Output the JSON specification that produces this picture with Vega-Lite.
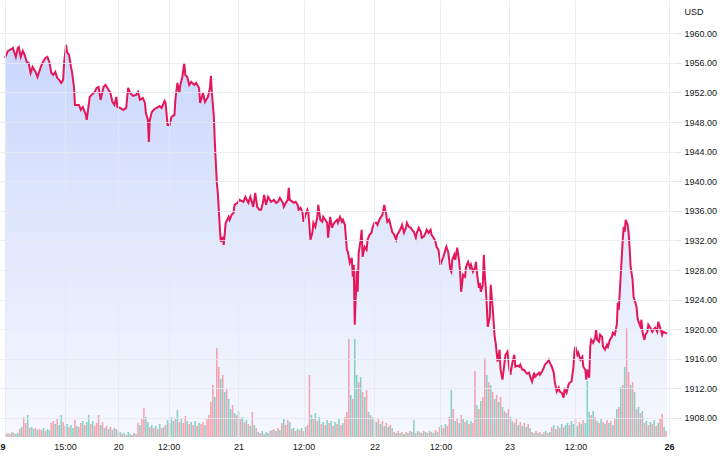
{
"$schema": "https://vega.github.io/schema/vega-lite/v6.json",
"width": 676, "height": 437,
"autosize": {"type": "none"},
"padding": {"left": 0, "top": 0, "right": 44, "bottom": 19},
"background": "#ffffff",
"config": {"view": {"stroke": null}, "font": "Liberation Sans"},
"datasets": {
"price": [
{"t":0,"p":1956.67},{"t":3,"p":1957.61},{"t":7,"p":1957.88},{"t":8,"p":1958.02},{"t":11,"p":1956.80},{"t":13,"p":1958.02},{"t":14,"p":1958.15},{"t":16,"p":1956.80},{"t":18,"p":1957.61},{"t":20,"p":1957.07},{"t":22,"p":1956.13},{"t":24,"p":1955.99},{"t":26,"p":1954.64},{"t":28,"p":1955.45},{"t":31,"p":1954.78},{"t":33,"p":1954.10},{"t":36,"p":1955.32},{"t":38,"p":1955.99},{"t":41,"p":1956.67},{"t":43,"p":1956.80},{"t":45,"p":1956.13},{"t":47,"p":1954.64},{"t":49,"p":1954.37},{"t":51,"p":1954.78},{"t":53,"p":1953.97},{"t":55,"p":1953.70},{"t":57,"p":1953.29},{"t":59,"p":1953.70},{"t":60,"p":1955.99},{"t":62,"p":1958.42},{"t":63,"p":1957.48},{"t":65,"p":1957.07},{"t":67,"p":1955.45},{"t":68,"p":1954.78},{"t":70,"p":1952.75},{"t":71,"p":1950.32},{"t":75,"p":1950.32},{"t":77,"p":1949.64},{"t":79,"p":1950.05},{"t":82,"p":1948.97},{"t":83,"p":1948.29},{"t":86,"p":1951.40},{"t":88,"p":1951.67},{"t":91,"p":1952.07},{"t":93,"p":1952.61},{"t":95,"p":1952.75},{"t":97,"p":1950.99},{"t":100,"p":1952.75},{"t":102,"p":1953.02},{"t":104,"p":1952.61},{"t":107,"p":1951.94},{"t":109,"p":1950.72},{"t":111,"p":1950.32},{"t":113,"p":1951.40},{"t":114,"p":1950.05},{"t":117,"p":1949.91},{"t":120,"p":1949.64},{"t":123,"p":1949.91},{"t":125,"p":1952.61},{"t":127,"p":1951.94},{"t":130,"p":1951.53},{"t":133,"p":1951.67},{"t":135,"p":1952.07},{"t":137,"p":1950.99},{"t":140,"p":1951.26},{"t":142,"p":1950.59},{"t":143,"p":1949.24},{"t":145,"p":1948.29},{"t":146,"p":1945.32},{"t":147,"p":1948.29},{"t":149,"p":1949.37},{"t":152,"p":1949.78},{"t":154,"p":1949.91},{"t":157,"p":1950.18},{"t":159,"p":1949.91},{"t":162,"p":1950.86},{"t":163,"p":1950.59},{"t":165,"p":1947.62},{"t":167,"p":1947.62},{"t":169,"p":1948.70},{"t":172,"p":1948.97},{"t":173,"p":1951.13},{"t":175,"p":1953.29},{"t":177,"p":1951.94},{"t":178,"p":1953.02},{"t":180,"p":1954.10},{"t":182,"p":1955.99},{"t":183,"p":1954.37},{"t":185,"p":1954.10},{"t":187,"p":1953.02},{"t":189,"p":1953.43},{"t":192,"p":1953.02},{"t":194,"p":1953.29},{"t":197,"p":1952.61},{"t":198,"p":1950.59},{"t":201,"p":1951.94},{"t":203,"p":1950.72},{"t":206,"p":1951.40},{"t":208,"p":1952.61},{"t":209,"p":1954.24},{"t":210,"p":1951.94},{"t":212,"p":1948.70},{"t":213,"p":1945.19},{"t":215,"p":1939.78},{"t":216,"p":1938.43},{"t":218,"p":1933.84},{"t":219,"p":1931.82},{"t":221,"p":1932.49},{"t":222,"p":1931.41},{"t":224,"p":1934.38},{"t":227,"p":1935.19},{"t":228,"p":1934.79},{"t":230,"p":1935.46},{"t":232,"p":1935.73},{"t":233,"p":1936.81},{"t":236,"p":1937.08},{"t":238,"p":1937.49},{"t":242,"p":1937.22},{"t":244,"p":1937.89},{"t":247,"p":1937.08},{"t":249,"p":1937.89},{"t":252,"p":1936.54},{"t":254,"p":1938.43},{"t":256,"p":1936.54},{"t":258,"p":1936.14},{"t":260,"p":1936.14},{"t":262,"p":1937.22},{"t":263,"p":1938.16},{"t":265,"p":1936.81},{"t":267,"p":1937.89},{"t":270,"p":1937.22},{"t":273,"p":1937.49},{"t":275,"p":1937.08},{"t":277,"p":1937.22},{"t":279,"p":1937.76},{"t":282,"p":1937.08},{"t":283,"p":1936.54},{"t":285,"p":1937.08},{"t":287,"p":1937.49},{"t":288,"p":1939.11},{"t":289,"p":1937.49},{"t":292,"p":1937.22},{"t":293,"p":1937.08},{"t":295,"p":1937.22},{"t":297,"p":1936.81},{"t":298,"p":1936.14},{"t":300,"p":1936.41},{"t":302,"p":1935.73},{"t":303,"p":1934.52},{"t":305,"p":1935.46},{"t":307,"p":1936.14},{"t":308,"p":1935.73},{"t":310,"p":1932.09},{"t":312,"p":1933.03},{"t":313,"p":1934.38},{"t":315,"p":1933.84},{"t":317,"p":1935.19},{"t":318,"p":1936.81},{"t":320,"p":1934.79},{"t":322,"p":1934.52},{"t":323,"p":1935.19},{"t":325,"p":1934.79},{"t":327,"p":1934.38},{"t":328,"p":1932.36},{"t":330,"p":1935.19},{"t":332,"p":1933.71},{"t":333,"p":1934.11},{"t":335,"p":1934.52},{"t":337,"p":1934.79},{"t":338,"p":1934.38},{"t":340,"p":1935.19},{"t":342,"p":1934.52},{"t":343,"p":1934.79},{"t":345,"p":1934.11},{"t":347,"p":1930.73},{"t":348,"p":1930.46},{"t":350,"p":1928.98},{"t":352,"p":1929.65},{"t":353,"p":1927.09},{"t":354,"p":1928.71},{"t":355,"p":1920.61},{"t":357,"p":1928.03},{"t":358,"p":1925.06},{"t":359,"p":1930.33},{"t":361,"p":1932.09},{"t":362,"p":1933.44},{"t":363,"p":1929.79},{"t":365,"p":1931.14},{"t":367,"p":1930.73},{"t":368,"p":1932.09},{"t":370,"p":1932.76},{"t":372,"p":1933.03},{"t":373,"p":1933.71},{"t":375,"p":1934.38},{"t":377,"p":1934.38},{"t":378,"p":1934.11},{"t":380,"p":1934.79},{"t":383,"p":1935.46},{"t":385,"p":1936.81},{"t":387,"p":1935.46},{"t":388,"p":1934.52},{"t":390,"p":1934.79},{"t":392,"p":1933.71},{"t":393,"p":1933.17},{"t":395,"p":1932.76},{"t":397,"p":1932.09},{"t":398,"p":1932.76},{"t":400,"p":1933.17},{"t":402,"p":1933.71},{"t":403,"p":1934.11},{"t":405,"p":1933.03},{"t":407,"p":1933.71},{"t":408,"p":1934.38},{"t":410,"p":1933.84},{"t":412,"p":1933.71},{"t":413,"p":1933.44},{"t":415,"p":1933.17},{"t":417,"p":1932.36},{"t":418,"p":1933.03},{"t":420,"p":1933.71},{"t":422,"p":1933.17},{"t":423,"p":1932.36},{"t":425,"p":1932.49},{"t":427,"p":1933.03},{"t":428,"p":1933.44},{"t":430,"p":1933.03},{"t":432,"p":1933.44},{"t":433,"p":1932.76},{"t":435,"p":1932.36},{"t":437,"p":1931.82},{"t":438,"p":1931.14},{"t":440,"p":1930.73},{"t":442,"p":1928.71},{"t":443,"p":1929.11},{"t":445,"p":1929.79},{"t":447,"p":1930.73},{"t":448,"p":1931.14},{"t":450,"p":1930.33},{"t":452,"p":1928.03},{"t":453,"p":1927.76},{"t":454,"p":1929.38},{"t":456,"p":1930.06},{"t":457,"p":1929.38},{"t":459,"p":1931.01},{"t":461,"p":1929.11},{"t":462,"p":1927.63},{"t":463,"p":1925.06},{"t":465,"p":1927.36},{"t":467,"p":1927.09},{"t":468,"p":1928.44},{"t":470,"p":1929.11},{"t":472,"p":1928.30},{"t":473,"p":1928.71},{"t":475,"p":1927.76},{"t":477,"p":1928.30},{"t":478,"p":1929.11},{"t":479,"p":1927.63},{"t":481,"p":1925.60},{"t":482,"p":1926.28},{"t":483,"p":1925.06},{"t":485,"p":1926.01},{"t":486,"p":1930.06},{"t":487,"p":1927.36},{"t":488,"p":1925.60},{"t":489,"p":1923.31},{"t":490,"p":1920.34},{"t":492,"p":1921.55},{"t":493,"p":1926.01},{"t":495,"p":1922.90},{"t":497,"p":1918.98},{"t":498,"p":1918.17},{"t":500,"p":1915.61},{"t":502,"p":1917.23},{"t":503,"p":1914.53},{"t":505,"p":1913.18},{"t":507,"p":1915.47},{"t":508,"p":1916.55},{"t":510,"p":1916.96},{"t":512,"p":1914.53},{"t":513,"p":1913.85},{"t":515,"p":1915.47},{"t":517,"p":1916.55},{"t":518,"p":1914.93},{"t":520,"p":1915.07},{"t":522,"p":1914.93},{"t":523,"p":1915.20},{"t":525,"p":1914.53},{"t":527,"p":1914.53},{"t":528,"p":1914.26},{"t":530,"p":1913.99},{"t":532,"p":1914.12},{"t":533,"p":1913.58},{"t":535,"p":1912.91},{"t":537,"p":1914.12},{"t":538,"p":1913.58},{"t":540,"p":1913.85},{"t":542,"p":1914.12},{"t":543,"p":1913.85},{"t":545,"p":1914.26},{"t":547,"p":1914.80},{"t":548,"p":1915.20},{"t":550,"p":1915.47},{"t":552,"p":1915.88},{"t":553,"p":1915.47},{"t":555,"p":1914.93},{"t":557,"p":1914.12},{"t":558,"p":1912.91},{"t":560,"p":1911.56},{"t":562,"p":1912.10},{"t":563,"p":1911.56},{"t":565,"p":1911.42},{"t":567,"p":1910.75},{"t":568,"p":1911.83},{"t":570,"p":1911.42},{"t":572,"p":1912.50},{"t":573,"p":1912.77},{"t":575,"p":1912.91},{"t":577,"p":1914.93},{"t":578,"p":1916.96},{"t":579,"p":1917.63},{"t":581,"p":1916.55},{"t":582,"p":1916.82},{"t":584,"p":1915.88},{"t":586,"p":1916.28},{"t":587,"p":1914.93},{"t":589,"p":1914.53},{"t":590,"p":1913.18},{"t":591,"p":1914.53},{"t":593,"p":1913.45},{"t":594,"p":1917.63},{"t":595,"p":1918.58},{"t":597,"p":1918.17},{"t":599,"p":1918.85},{"t":600,"p":1919.93},{"t":601,"p":1918.58},{"t":603,"p":1918.31},{"t":604,"p":1919.25},{"t":606,"p":1918.98},{"t":607,"p":1917.63},{"t":609,"p":1917.23},{"t":611,"p":1917.90},{"t":612,"p":1917.63},{"t":614,"p":1918.58},{"t":616,"p":1918.98},{"t":617,"p":1919.53},{"t":619,"p":1919.25},{"t":621,"p":1920.61},{"t":622,"p":1923.58},{"t":623,"p":1922.63},{"t":625,"p":1927.36},{"t":626,"p":1929.65},{"t":627,"p":1932.09},{"t":628,"p":1933.84},{"t":629,"p":1933.17},{"t":630,"p":1934.79},{"t":632,"p":1934.11},{"t":633,"p":1933.03},{"t":634,"p":1931.01},{"t":635,"p":1928.44},{"t":637,"p":1926.68},{"t":638,"p":1924.39},{"t":639,"p":1923.98},{"t":641,"p":1923.04},{"t":642,"p":1921.55},{"t":643,"p":1921.01},{"t":645,"p":1920.34},{"t":646,"p":1921.28},{"t":647,"p":1919.66},{"t":649,"p":1918.58},{"t":650,"p":1919.25},{"t":652,"p":1919.66},{"t":653,"p":1920.61},{"t":655,"p":1920.20},{"t":657,"p":1919.66},{"t":658,"p":1919.93},{"t":660,"p":1920.20},{"t":662,"p":1919.66},{"t":663,"p":1921.01},{"t":665,"p":1920.20},{"t":667,"p":1919.25},{"t":668,"p":1919.66},{"t":670,"p":1919.53},{"t":672,"p":1919.39}
],
"vol": [
{"t":1,"v":3,"d":"u"},{"t":3,"v":4,"d":"d"},{"t":5,"v":3,"d":"d"},{"t":7,"v":5,"d":"u"},{"t":9,"v":4,"d":"d"},{"t":11,"v":3,"d":"u"},{"t":13,"v":4,"d":"u"},
{"t":15,"v":8,"d":"d"},{"t":17,"v":10,"d":"u"},{"t":19,"v":20,"d":"d"},{"t":21,"v":14,"d":"d"},{"t":23,"v":22,"d":"u"},{"t":25,"v":9,"d":"d"},{"t":27,"v":10,"d":"u"},{"t":29,"v":8,"d":"u"},{"t":31,"v":9,"d":"d"},{"t":33,"v":7,"d":"u"},{"t":35,"v":8,"d":"d"},
{"t":37,"v":7,"d":"d"},{"t":39,"v":9,"d":"u"},{"t":41,"v":6,"d":"d"},{"t":43,"v":8,"d":"u"},{"t":45,"v":7,"d":"u"},
{"t":47,"v":14,"d":"d"},{"t":49,"v":16,"d":"d"},{"t":51,"v":13,"d":"u"},{"t":53,"v":18,"d":"d"},{"t":55,"v":12,"d":"u"},{"t":57,"v":22,"d":"u"},{"t":59,"v":15,"d":"d"},
{"t":61,"v":11,"d":"d"},{"t":63,"v":13,"d":"u"},{"t":65,"v":10,"d":"d"},{"t":67,"v":12,"d":"u"},{"t":69,"v":9,"d":"u"},{"t":71,"v":17,"d":"d"},{"t":73,"v":11,"d":"u"},{"t":75,"v":10,"d":"d"},
{"t":77,"v":14,"d":"d"},{"t":79,"v":16,"d":"u"},{"t":81,"v":12,"d":"d"},{"t":83,"v":15,"d":"u"},{"t":85,"v":22,"d":"u"},{"t":87,"v":13,"d":"d"},{"t":89,"v":16,"d":"u"},{"t":91,"v":11,"d":"d"},{"t":93,"v":14,"d":"d"},{"t":95,"v":22,"d":"d"},{"t":97,"v":12,"d":"u"},{"t":99,"v":15,"d":"d"},
{"t":101,"v":9,"d":"u"},{"t":103,"v":11,"d":"d"},{"t":105,"v":8,"d":"u"},{"t":107,"v":10,"d":"d"},{"t":109,"v":7,"d":"u"},{"t":111,"v":9,"d":"d"},{"t":113,"v":8,"d":"u"},{"t":115,"v":6,"d":"d"},{"t":117,"v":5,"d":"u"},
{"t":119,"v":3,"d":"d"},{"t":121,"v":4,"d":"u"},{"t":123,"v":2,"d":"d"},{"t":125,"v":5,"d":"u"},{"t":127,"v":3,"d":"u"},{"t":129,"v":2,"d":"d"},{"t":131,"v":4,"d":"u"},{"t":133,"v":3,"d":"d"},
{"t":135,"v":14,"d":"d"},{"t":137,"v":12,"d":"u"},{"t":139,"v":18,"d":"d"},{"t":141,"v":29,"d":"d"},{"t":143,"v":20,"d":"u"},{"t":145,"v":15,"d":"u"},
{"t":147,"v":10,"d":"d"},{"t":149,"v":12,"d":"u"},{"t":151,"v":9,"d":"d"},{"t":153,"v":11,"d":"u"},{"t":155,"v":8,"d":"d"},{"t":157,"v":13,"d":"u"},{"t":159,"v":9,"d":"d"},{"t":161,"v":10,"d":"u"},{"t":163,"v":12,"d":"d"},
{"t":165,"v":17,"d":"u"},{"t":167,"v":14,"d":"d"},{"t":169,"v":20,"d":"u"},{"t":171,"v":16,"d":"u"},{"t":173,"v":18,"d":"d"},{"t":175,"v":27,"d":"u"},{"t":177,"v":15,"d":"d"},{"t":179,"v":19,"d":"u"},{"t":181,"v":14,"d":"d"},{"t":183,"v":21,"d":"d"},{"t":185,"v":16,"d":"u"},
{"t":187,"v":13,"d":"d"},{"t":189,"v":15,"d":"u"},{"t":191,"v":12,"d":"d"},{"t":193,"v":16,"d":"u"},{"t":195,"v":11,"d":"d"},{"t":197,"v":14,"d":"u"},{"t":199,"v":13,"d":"d"},{"t":201,"v":15,"d":"d"},{"t":203,"v":12,"d":"u"},{"t":205,"v":18,"d":"d"},
{"t":207,"v":22,"d":"d"},{"t":209,"v":35,"d":"d"},{"t":211,"v":52,"d":"d"},{"t":213,"v":40,"d":"u"},{"t":215,"v":89,"d":"d"},
{"t":217,"v":70,"d":"d"},{"t":219,"v":58,"d":"u"},{"t":221,"v":62,"d":"d"},{"t":223,"v":45,"d":"u"},{"t":225,"v":48,"d":"d"},{"t":227,"v":38,"d":"u"},
{"t":229,"v":28,"d":"u"},{"t":231,"v":32,"d":"d"},{"t":233,"v":24,"d":"u"},{"t":235,"v":22,"d":"d"},{"t":237,"v":26,"d":"u"},{"t":239,"v":18,"d":"d"},{"t":241,"v":20,"d":"u"},{"t":243,"v":15,"d":"d"},{"t":245,"v":17,"d":"u"},
{"t":247,"v":13,"d":"d"},{"t":249,"v":11,"d":"u"},{"t":251,"v":25,"d":"d"},{"t":253,"v":12,"d":"u"},{"t":255,"v":9,"d":"d"},
{"t":257,"v":5,"d":"u"},{"t":259,"v":4,"d":"d"},{"t":261,"v":6,"d":"u"},{"t":263,"v":3,"d":"d"},{"t":265,"v":5,"d":"u"},{"t":267,"v":4,"d":"u"},{"t":269,"v":6,"d":"d"},
{"t":271,"v":7,"d":"u"},{"t":273,"v":8,"d":"d"},{"t":275,"v":6,"d":"u"},{"t":277,"v":9,"d":"d"},{"t":279,"v":7,"d":"u"},
{"t":281,"v":14,"d":"d"},{"t":283,"v":18,"d":"u"},{"t":285,"v":12,"d":"d"},{"t":287,"v":17,"d":"d"},{"t":289,"v":15,"d":"u"},
{"t":291,"v":8,"d":"d"},{"t":293,"v":9,"d":"u"},{"t":295,"v":6,"d":"d"},{"t":297,"v":8,"d":"u"},{"t":299,"v":7,"d":"d"},{"t":301,"v":9,"d":"u"},{"t":303,"v":6,"d":"d"},{"t":305,"v":10,"d":"u"},
{"t":307,"v":12,"d":"d"},{"t":309,"v":62,"d":"d"},{"t":311,"v":22,"d":"u"},{"t":313,"v":18,"d":"d"},{"t":315,"v":24,"d":"u"},{"t":317,"v":16,"d":"d"},{"t":319,"v":20,"d":"u"},
{"t":321,"v":13,"d":"d"},{"t":323,"v":15,"d":"u"},{"t":325,"v":12,"d":"d"},{"t":327,"v":17,"d":"u"},{"t":329,"v":14,"d":"d"},{"t":331,"v":16,"d":"u"},{"t":333,"v":11,"d":"d"},{"t":335,"v":15,"d":"u"},{"t":337,"v":13,"d":"d"},{"t":339,"v":18,"d":"u"},{"t":341,"v":12,"d":"d"},{"t":343,"v":14,"d":"u"},{"t":345,"v":20,"d":"d"},
{"t":347,"v":25,"d":"d"},{"t":349,"v":98,"d":"d"},{"t":351,"v":42,"d":"u"},{"t":353,"v":38,"d":"d"},
{"t":355,"v":98,"d":"u"},{"t":357,"v":62,"d":"u"},{"t":359,"v":55,"d":"d"},{"t":361,"v":60,"d":"u"},{"t":363,"v":45,"d":"d"},{"t":365,"v":40,"d":"u"},{"t":367,"v":47,"d":"d"},
{"t":369,"v":25,"d":"u"},{"t":371,"v":22,"d":"d"},{"t":373,"v":20,"d":"u"},{"t":375,"v":17,"d":"d"},{"t":377,"v":15,"d":"u"},{"t":379,"v":18,"d":"d"},
{"t":381,"v":13,"d":"u"},{"t":383,"v":16,"d":"d"},{"t":385,"v":11,"d":"u"},{"t":387,"v":14,"d":"d"},{"t":389,"v":10,"d":"u"},{"t":391,"v":12,"d":"d"},{"t":393,"v":9,"d":"u"},
{"t":395,"v":5,"d":"d"},{"t":397,"v":4,"d":"u"},{"t":399,"v":6,"d":"d"},{"t":401,"v":4,"d":"u"},{"t":403,"v":5,"d":"d"},{"t":405,"v":3,"d":"u"},{"t":407,"v":5,"d":"d"},{"t":409,"v":4,"d":"u"},{"t":411,"v":6,"d":"d"},{"t":413,"v":5,"d":"u"},{"t":415,"v":17,"d":"u"},{"t":417,"v":4,"d":"d"},{"t":419,"v":6,"d":"u"},{"t":421,"v":5,"d":"d"},{"t":423,"v":4,"d":"u"},{"t":425,"v":6,"d":"d"},{"t":427,"v":5,"d":"u"},{"t":429,"v":4,"d":"d"},{"t":431,"v":6,"d":"u"},{"t":433,"v":5,"d":"d"},{"t":435,"v":4,"d":"u"},{"t":437,"v":7,"d":"d"},{"t":439,"v":5,"d":"u"},
{"t":441,"v":10,"d":"d"},{"t":443,"v":12,"d":"u"},{"t":445,"v":9,"d":"d"},{"t":447,"v":13,"d":"u"},{"t":449,"v":11,"d":"d"},{"t":451,"v":20,"d":"d"},
{"t":453,"v":47,"d":"u"},{"t":455,"v":28,"d":"d"},
{"t":457,"v":16,"d":"u"},{"t":459,"v":19,"d":"d"},{"t":461,"v":14,"d":"u"},{"t":463,"v":22,"d":"d"},{"t":465,"v":18,"d":"u"},{"t":467,"v":15,"d":"d"},{"t":469,"v":17,"d":"u"},{"t":471,"v":13,"d":"d"},{"t":473,"v":16,"d":"u"},{"t":475,"v":14,"d":"d"},
{"t":477,"v":66,"d":"d"},{"t":479,"v":32,"d":"u"},{"t":481,"v":28,"d":"d"},{"t":483,"v":36,"d":"u"},{"t":485,"v":40,"d":"d"},{"t":487,"v":79,"d":"d"},{"t":489,"v":62,"d":"u"},{"t":491,"v":55,"d":"d"},{"t":493,"v":52,"d":"u"},{"t":495,"v":45,"d":"d"},{"t":497,"v":38,"d":"u"},{"t":499,"v":42,"d":"d"},{"t":501,"v":35,"d":"u"},{"t":503,"v":40,"d":"d"},{"t":505,"v":30,"d":"u"},{"t":507,"v":26,"d":"d"},{"t":509,"v":24,"d":"u"},{"t":511,"v":28,"d":"d"},{"t":513,"v":20,"d":"u"},
{"t":515,"v":16,"d":"d"},{"t":517,"v":14,"d":"u"},{"t":519,"v":18,"d":"d"},{"t":521,"v":12,"d":"u"},{"t":523,"v":15,"d":"d"},{"t":525,"v":11,"d":"u"},{"t":527,"v":14,"d":"d"},{"t":529,"v":10,"d":"u"},{"t":531,"v":13,"d":"d"},{"t":533,"v":9,"d":"u"},
{"t":535,"v":5,"d":"d"},{"t":537,"v":4,"d":"u"},{"t":539,"v":6,"d":"d"},{"t":541,"v":4,"d":"u"},{"t":543,"v":5,"d":"d"},{"t":545,"v":3,"d":"u"},{"t":547,"v":5,"d":"d"},{"t":549,"v":6,"d":"u"},{"t":551,"v":4,"d":"d"},{"t":553,"v":5,"d":"u"},
{"t":555,"v":10,"d":"d"},{"t":557,"v":12,"d":"u"},{"t":559,"v":8,"d":"d"},{"t":561,"v":11,"d":"u"},{"t":563,"v":9,"d":"d"},{"t":565,"v":13,"d":"u"},{"t":567,"v":10,"d":"d"},{"t":569,"v":12,"d":"u"},
{"t":571,"v":14,"d":"u"},{"t":573,"v":12,"d":"d"},{"t":575,"v":16,"d":"u"},{"t":577,"v":13,"d":"u"},{"t":579,"v":18,"d":"d"},{"t":581,"v":11,"d":"u"},{"t":583,"v":15,"d":"d"},{"t":585,"v":13,"d":"u"},{"t":587,"v":17,"d":"d"},{"t":589,"v":14,"d":"u"},
{"t":591,"v":56,"d":"u"},{"t":593,"v":25,"d":"u"},{"t":595,"v":22,"d":"d"},{"t":597,"v":26,"d":"u"},{"t":599,"v":20,"d":"d"},
{"t":601,"v":16,"d":"u"},{"t":603,"v":14,"d":"d"},{"t":605,"v":18,"d":"u"},{"t":607,"v":15,"d":"d"},{"t":609,"v":13,"d":"u"},{"t":611,"v":17,"d":"d"},{"t":613,"v":14,"d":"u"},{"t":615,"v":16,"d":"d"},{"t":617,"v":12,"d":"u"},{"t":619,"v":18,"d":"d"},
{"t":621,"v":28,"d":"u"},{"t":623,"v":30,"d":"d"},{"t":625,"v":50,"d":"u"},{"t":627,"v":52,"d":"d"},{"t":629,"v":70,"d":"u"},{"t":631,"v":109,"d":"d"},{"t":633,"v":65,"d":"d"},{"t":635,"v":52,"d":"u"},{"t":637,"v":55,"d":"d"},{"t":639,"v":45,"d":"u"},
{"t":641,"v":28,"d":"d"},{"t":643,"v":30,"d":"u"},{"t":645,"v":24,"d":"d"},{"t":647,"v":26,"d":"u"},
{"t":649,"v":14,"d":"d"},{"t":651,"v":16,"d":"u"},{"t":653,"v":12,"d":"d"},{"t":655,"v":15,"d":"u"},{"t":657,"v":13,"d":"d"},{"t":659,"v":17,"d":"u"},{"t":661,"v":11,"d":"d"},{"t":663,"v":14,"d":"u"},
{"t":665,"v":18,"d":"d"},{"t":667,"v":23,"d":"d"},{"t":669,"v":10,"d":"u"},{"t":671,"v":6,"d":"d"}
]
},
"layer": [
{
"data": {"name": "price"},
"layer": [
{
"mark": {"type": "area", "clip": true, "opacity": 1, "fillOpacity": 1, "color": {"gradient": "linear", "x1": 0, "y1": 0, "x2": 0, "y2": 1, "stops": [{"offset": 0, "color": "#cad7fd"}, {"offset": 0.45, "color": "#dfe7fd"}, {"offset": 1, "color": "#f6f8fe"}]}},
"encoding": {
"x": {"field": "t", "type": "quantitative", "scale": {"domain": [0, 676], "nice": false, "zero": false},
"axis": {"values": [0, 61, 115, 166, 237, 303, 375, 442, 512, 579, 674], "tickCount": 30,
"labelExpr": "datum.value == 0 ? '19' : datum.value == 61 ? '15:00' : datum.value == 115 ? '20' : datum.value == 237 ? '21' : datum.value == 375 ? '22' : datum.value == 512 ? '23' : datum.value == 674 ? '26' : '12:00'",
"grid": true, "gridColor": "#e6e9f0", "gridOpacity": 0.8, "domain": false, "ticks": false, "title": null, "zindex": 1,
"labelFontSize": 9, "labelColor": "#131722", "labelPadding": 5, "labelOverlap": false, "labelBound": false, "labelFlush": false, "labelAlign": "center",
"labelOffset": {"condition": {"test": "datum.value == 0", "value": -5}, "value": 0},
"labelFontWeight": {"condition": {"test": "datum.value == 0 || datum.value == 674", "value": "bold"}, "value": "normal"}}},
"y": {"field": "p", "type": "quantitative", "scale": {"domain": [1905.43, 1964.5], "zero": false, "nice": false},
"axis": {"orient": "right", "values": [1908, 1912, 1916, 1920, 1924, 1928, 1932, 1936, 1940, 1944, 1948, 1952, 1956, 1960], "tickCount": 30, "format": ".2f", "zindex": 1,
"grid": true, "gridColor": "#e6e9f0", "gridOpacity": 0.8, "domain": false, "ticks": true, "tickColor": "#e0e3eb", "tickSize": 5, "labelPadding": 3, "labelOverlap": false, "labelBound": false, "labelFlush": false,
"labelFontSize": 9, "labelColor": "#131722", "labelAlign": "left",
"title": "USD", "titleAngle": 0, "titleAlign": "left", "titleBaseline": "middle", "titleX": 8, "titleY": 11, "titleFontSize": 9, "titleFontWeight": "normal", "titleColor": "#131722"}},
"y2": {"datum": 1905.43}
}
},
{
"mark": {"type": "line", "color": "#e3175a", "strokeWidth": 2, "clip": true},
"encoding": {
"x": {"field": "t", "type": "quantitative"},
"y": {"field": "p", "type": "quantitative"}
}
}
]
},
{
"data": {"name": "vol"},
"mark": {"type": "bar", "width": 1.6, "opacity": 0.5},
"encoding": {
"x": {"field": "t", "type": "quantitative"},
"y": {"field": "v", "type": "quantitative", "scale": {"domain": [0, 437], "nice": false}, "axis": null},
"color": {"field": "d", "type": "nominal", "scale": {"domain": ["u", "d"], "range": ["#22ab94", "#f7525f"]}, "legend": null}
}
}
],
"resolve": {"scale": {"y": "independent"}}
}
